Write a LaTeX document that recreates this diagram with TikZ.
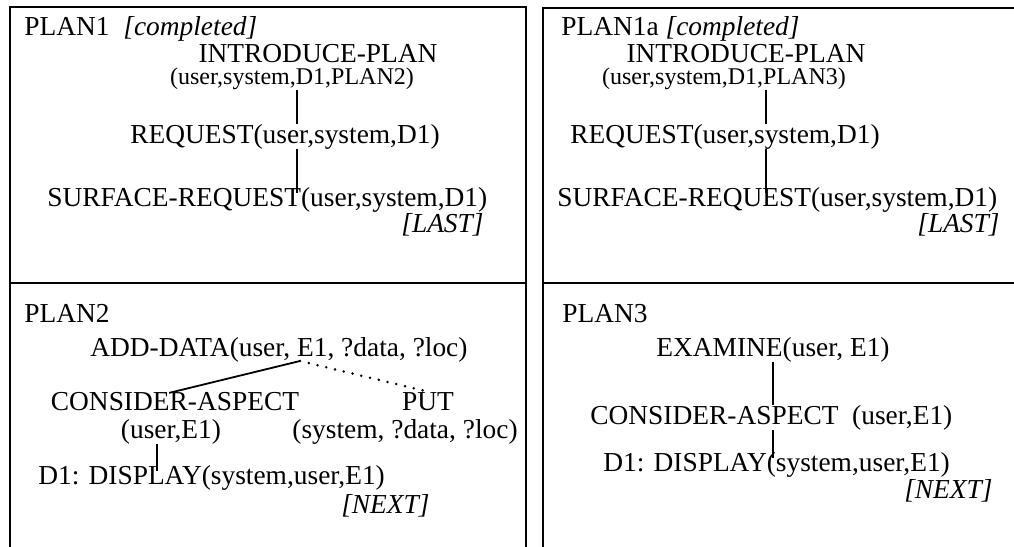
\documentclass[tikz,border=0pt]{standalone}
\usepackage{fontspec}
\setmainfont{Liberation Serif}
\usepackage{tikz}

\begin{document}
\begin{tikzpicture}[x=0.5pt, y=-0.5pt,
    txt/.style={inner sep=0pt, font=\fontsize{13.7}{15}\selectfont},
    arg/.style={inner sep=0pt, font=\fontsize{12}{13}\selectfont},
    tree/.style={line width=0.9pt},
    frame/.style={line width=1.3pt}]

        \useasboundingbox (0,0) rectangle (1014,547);

        % Frames
        \draw[frame] (10,547) -- (10,7) -- (526,7) -- (526,547);
        \draw[frame] (10,283) -- (526,283);
        \draw[frame] (543,547) -- (543,8) -- (1014,8);
        \draw[frame] (543,283) -- (1014,283);

        % PLAN1
        \node[txt, anchor=base west] (p1) at (24,35) {PLAN1~~\textit{[completed]}};
        \node[txt, anchor=base] (p1intro) at (318,62) {INTRODUCE-PLAN};
        \node[arg, anchor=base] (p1args) at (292,84) {(user,system,D1,PLAN2)};
        \node[txt, anchor=base] (p1req) at (285,143) {REQUEST(user,system,D1)};
        \node[txt, anchor=base west] (p1surf) at (47,206) {SURFACE-REQUEST(user,system,D1)};
        \node[txt, anchor=base east] (p1last) at (484,232) {\textit{[LAST]}};
        \coordinate (p1axis) at (297,0);
        \draw[tree] (p1args.south -| p1axis) -- (p1req.north -| p1axis);
        \draw[tree, shorten >=-3pt] (p1req.south -| p1axis) -- (p1surf.north -| p1axis);

        % PLAN1a
        \node[txt, anchor=base west] (p1a) at (561,35) {PLAN1a \textit{[completed]}};
        \node[txt, anchor=base] (p1aintro) at (746,62) {INTRODUCE-PLAN};
        \node[arg, anchor=base] (p1aargs) at (724,84) {(user,system,D1,PLAN3)};
        \node[txt, anchor=base] (p1areq) at (725,143) {REQUEST(user,system,D1)};
        \node[txt, anchor=base west] (p1asurf) at (557,206) {SURFACE-REQUEST(user,system,D1)};
        \node[txt, anchor=base east] (p1alast) at (1000,232) {\textit{[LAST]}};
        \coordinate (p1aaxis) at (766,0);
        \draw[tree] (p1aargs.south -| p1aaxis) -- (p1areq.north -| p1aaxis);
        \draw[tree, shorten >=-3pt] (p1areq.south -| p1aaxis) -- (p1asurf.north -| p1aaxis);

        % PLAN2
        \node[txt, anchor=base west] (p2) at (24,322) {PLAN2};
        \node[txt, anchor=base west] (p2add) at (90,356) {ADD-DATA(user, E1, ?data, ?loc)};
        \coordinate (p2fork) at (300,361);
        \node[txt, anchor=base] (p2cons) at (175,410) {CONSIDER-ASPECT};
        \node[txt, anchor=base] (p2consargs) at (171,438) {(user,E1)};
        \node[txt, anchor=base] (p2put) at (428,410) {PUT};
        \node[txt, anchor=base] (p2putargs) at (405,438) {(system, ?data, ?loc)};
        \node[txt, anchor=base west] (p2disp) at (38,484) {D1: DISPLAY(system,user,E1)};
        \node[txt, anchor=base east] (p2next) at (430,513) {\textit{[NEXT]}};
        \coordinate (p2axis) at (157,0);
        \draw[tree, shorten >=-3pt] (p2fork) -- (p2cons.north);
        \draw[line width=1.4pt, line cap=round, dash pattern=on 0pt off 4.5pt] (p2fork) -- (p2put.north);
        \draw[tree, shorten >=-3pt] (p2consargs.south -| p2axis) -- (p2disp.north -| p2axis);

        % PLAN3
        \node[txt, anchor=base west] (p3) at (562,322) {PLAN3};
        \node[txt, anchor=base] (p3exam) at (773,356) {EXAMINE(user, E1)};
        \node[txt, anchor=base west] (p3cons) at (590,424) {CONSIDER-ASPECT~~(user,E1)};
        \node[txt, anchor=base west] (p3disp) at (603,471) {D1: DISPLAY(system,user,E1)};
        \node[txt, anchor=base east] (p3next) at (993,498) {\textit{[NEXT]}};
        \coordinate (p3axis) at (773,0);
        \draw[tree] (p3exam.south -| p3axis) -- (p3cons.north -| p3axis);
        \draw[tree, shorten >=-3pt] (p3cons.south -| p3axis) -- (p3disp.north -| p3axis);
    \end{tikzpicture}
\end{document}
